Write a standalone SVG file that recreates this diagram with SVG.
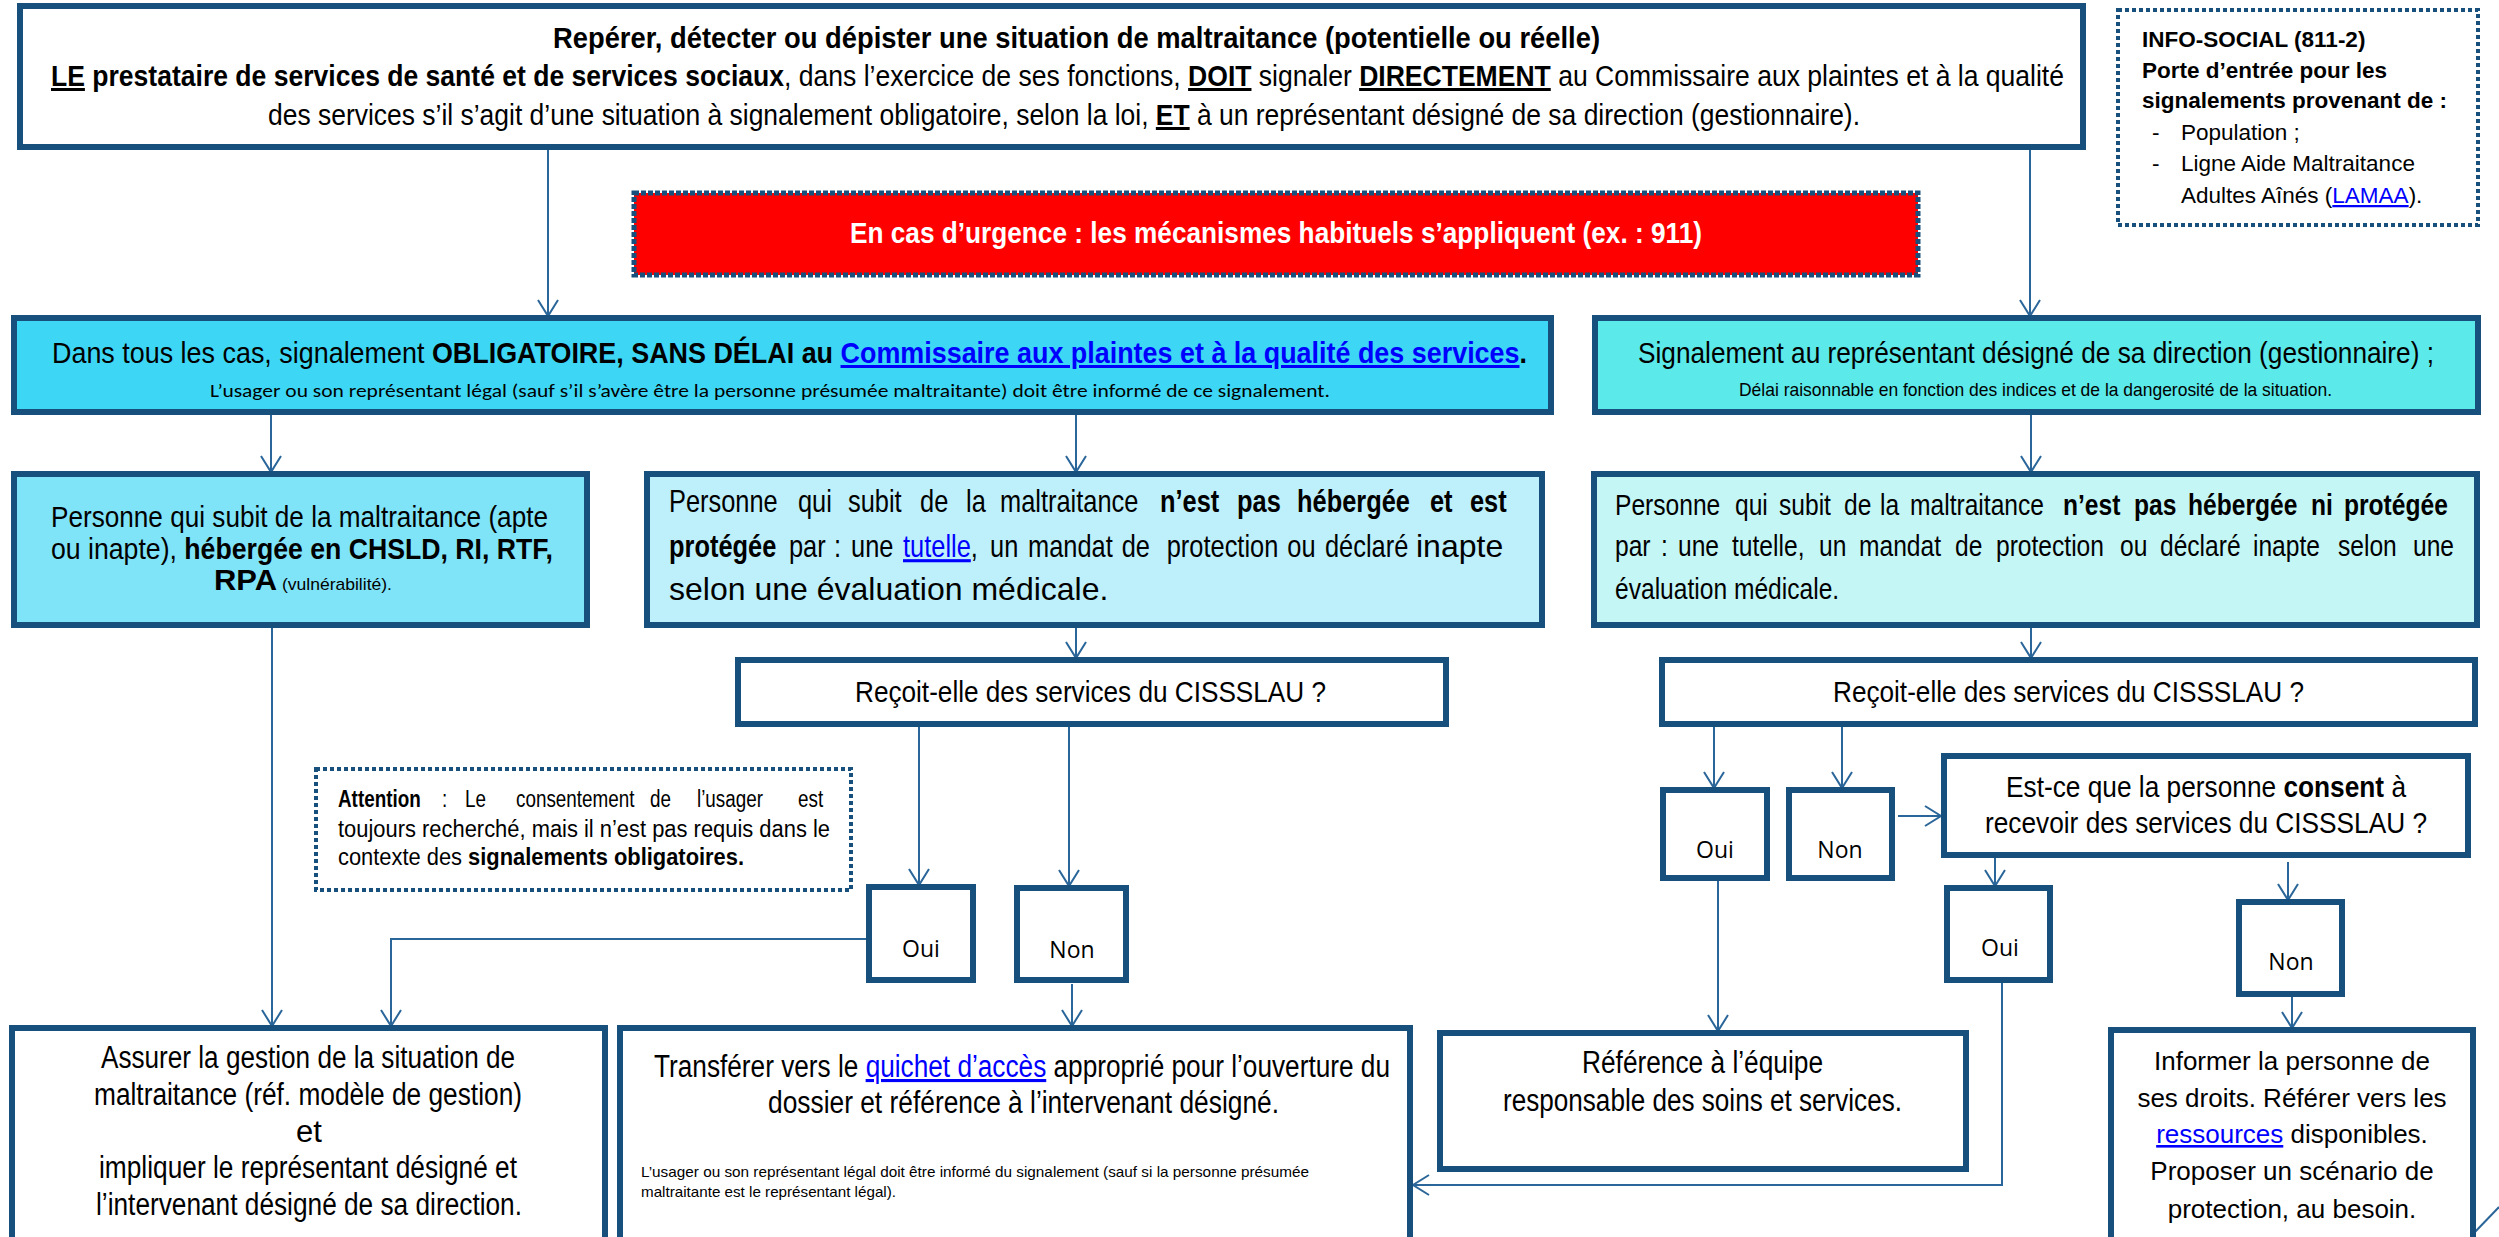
<svg xmlns="http://www.w3.org/2000/svg" width="2499" height="1237" viewBox="0 0 2499 1237">
<defs>
<style>
.box{stroke:#17507D;stroke-width:6}
.n{font-family:"Liberation Sans",Arial,sans-serif;fill:#000}
.a{font-family:"Liberation Sans",Arial,sans-serif;fill:#000}
.c{font-family:Carlito,Calibri,"Open Sans",sans-serif;fill:#000}
.b{font-weight:bold}
.u{text-decoration:underline}
.lk{fill:#0000FF;text-decoration:underline}
.con{fill:none;stroke:#2A6699;stroke-width:2}
.dot{fill:#fff;stroke:#17507D;stroke-width:4;stroke-dasharray:4 3}
.red{fill:#FF0000;stroke:#17507D;stroke-width:5;stroke-dasharray:5 2}
.on{font-family:"Open Sans",Calibri,sans-serif;font-size:23px;fill:#000;text-anchor:middle}
</style>
<marker id="ah" markerUnits="userSpaceOnUse" viewBox="-18 -12 20 24" markerWidth="20" markerHeight="24" refX="0" refY="0" orient="auto" overflow="visible">
<path d="M-16,-10 L0,0 L-16,10" fill="none" stroke="#2A6699" stroke-width="2"/>
</marker>
</defs>
<rect width="2499" height="1237" fill="#fff"/>

<g id="connectors">
<path class="con" d="M548,148 V316" marker-end="url(#ah)"/>
<path class="con" d="M2030,148 V316" marker-end="url(#ah)"/>
<path class="con" d="M271,413 V472" marker-end="url(#ah)"/>
<path class="con" d="M1076,413 V472" marker-end="url(#ah)"/>
<path class="con" d="M2031,413 V472" marker-end="url(#ah)"/>
<path class="con" d="M1076,626 V658" marker-end="url(#ah)"/>
<path class="con" d="M2031,626 V658" marker-end="url(#ah)"/>
<path class="con" d="M919,725 V885" marker-end="url(#ah)"/>
<path class="con" d="M1069,725 V886" marker-end="url(#ah)"/>
<path class="con" d="M1714,725 V788" marker-end="url(#ah)"/>
<path class="con" d="M1842,725 V788" marker-end="url(#ah)"/>
<path class="con" d="M1898,816 H1941" marker-end="url(#ah)"/>
<path class="con" d="M1995,858 V886" marker-end="url(#ah)"/>
<path class="con" d="M2288,862 V900" marker-end="url(#ah)"/>
<path class="con" d="M272,626 V1026" marker-end="url(#ah)"/>
<path class="con" d="M868,939 H391 V1026" marker-end="url(#ah)"/>
<path class="con" d="M1072,984 V1026" marker-end="url(#ah)"/>
<path class="con" d="M1718,879 V1031" marker-end="url(#ah)"/>
<path class="con" d="M2002,981 V1185 H1413" marker-end="url(#ah)"/>
<path class="con" d="M2292,997 V1028" marker-end="url(#ah)"/>
<path class="con" d="M2474,1233 L2499,1207"/>
</g>

<g id="top">
<rect class="box" x="20" y="6" width="2063" height="141" fill="#fff"/>
<text class="n b" x="553" y="48" font-size="30" textLength="1047" lengthAdjust="spacingAndGlyphs">Repérer, détecter ou dépister une situation de maltraitance (potentielle ou réelle)</text>
<text class="n" x="51" y="86" font-size="30" textLength="2013" lengthAdjust="spacingAndGlyphs"><tspan class="b u">LE</tspan><tspan class="b"> prestataire de services de santé et de services sociaux</tspan>, dans l’exercice de ses fonctions, <tspan class="b u">DOIT</tspan> signaler <tspan class="b u">DIRECTEMENT</tspan> au Commissaire aux plaintes et à la qualité</text>
<text class="n" x="268" y="125" font-size="30" textLength="1592" lengthAdjust="spacingAndGlyphs">des services s’il s’agit d’une situation à signalement obligatoire, selon la loi, <tspan class="b u">ET</tspan> à un représentant désigné de sa direction (gestionnaire).</text>
</g>

<g id="info-social">
<rect class="dot" x="2118" y="10" width="360" height="215"/>
<text class="a b" x="2142" y="47" font-size="22.5">INFO-SOCIAL (811-2)</text>
<text class="a b" x="2142" y="78" font-size="22.5">Porte d’entrée pour les</text>
<text class="a b" x="2142" y="108" font-size="22.5">signalements provenant de :</text>
<text class="a" x="2152" y="140" font-size="22.5">-</text>
<text class="a" x="2181" y="140" font-size="22.5">Population ;</text>
<text class="a" x="2152" y="171" font-size="22.5">-</text>
<text class="a" x="2181" y="171" font-size="22.5">Ligne Aide Maltraitance</text>
<text class="a" x="2181" y="203" font-size="22.5">Adultes Aînés (<tspan class="lk">LAMAA</tspan>).</text>
</g>

<g id="urgence">
<rect class="red" x="634" y="193" width="1284" height="82"/>
<text class="n b" x="850" y="243" font-size="30" style="fill:#fff" textLength="852" lengthAdjust="spacingAndGlyphs">En cas d’urgence : les mécanismes habituels s’appliquent (ex. : 911)</text>
</g>

<g id="signalement-commissaire">
<rect class="box" x="14" y="318" width="1537" height="94" fill="#3DD7F5"/>
<text class="n" x="52" y="363" font-size="30" textLength="1475" lengthAdjust="spacingAndGlyphs">Dans tous les cas, signalement <tspan class="b">OBLIGATOIRE, SANS DÉLAI au </tspan><tspan class="b lk">Commissaire aux plaintes et à la qualité des services</tspan><tspan class="b">.</tspan></text>
<text class="c" x="210" y="397" font-size="19" textLength="1120" lengthAdjust="spacingAndGlyphs">L’usager ou son représentant légal (sauf s’il s’avère être la personne présumée maltraitante) doit être informé de ce signalement.</text>
</g>

<g id="signalement-direction">
<rect class="box" x="1595" y="318" width="883" height="94" fill="#5BE9E9"/>
<text class="n" x="1638" y="363" font-size="30" textLength="796" lengthAdjust="spacingAndGlyphs">Signalement au représentant désigné de sa direction (gestionnaire) ;</text>
<text class="n" x="1739" y="396" font-size="19" textLength="593" lengthAdjust="spacingAndGlyphs">Délai raisonnable en fonction des indices et de la dangerosité de la situation.</text>
</g>

<g id="heberge">
<rect class="box" x="14" y="474" width="573" height="151" fill="#80E4F8"/>
<text class="n" x="51" y="527" font-size="30" textLength="497" lengthAdjust="spacingAndGlyphs">Personne qui subit de la maltraitance (apte</text>
<text class="n" x="51" y="559" font-size="30" textLength="502" lengthAdjust="spacingAndGlyphs">ou inapte), <tspan class="b">hébergée en CHSLD, RI, RTF,</tspan></text>
<text class="n" x="214" y="590" textLength="178" lengthAdjust="spacingAndGlyphs"><tspan class="b" font-size="30">RPA</tspan><tspan font-size="17"> (vulnérabilité).</tspan></text>
</g>

<g id="protegee">
<rect class="box" x="647" y="474" width="895" height="151" fill="#BEF0FB"/>
<text class="n" y="512" font-size="31" transform="translate(669,0) scale(0.82,1)"><tspan x="0">Personne</tspan><tspan x="157.3">qui</tspan><tspan x="218.3">subit</tspan><tspan x="306.1">de</tspan><tspan x="362.2">la</tspan><tspan x="403.7">maltraitance</tspan><tspan class="b" x="598.8">n’est</tspan><tspan class="b" x="692.7">pas</tspan><tspan class="b" x="765.9">hébergée</tspan><tspan class="b" x="928">et</tspan><tspan class="b" x="976.8">est</tspan></text>
<text class="n" y="557" font-size="31" transform="translate(669,0) scale(0.82,1)"><tspan class="b" x="0">protégée</tspan><tspan x="146.3">par</tspan><tspan x="201.2">:</tspan><tspan x="222">une</tspan><tspan class="lk" x="285.4">tutelle</tspan><tspan>,</tspan><tspan x="391.5">un</tspan><tspan x="437.8">mandat</tspan><tspan x="552">de</tspan><tspan x="607">protection</tspan><tspan x="754">ou</tspan><tspan x="800">déclaré</tspan></text>
<text class="a" x="1416" y="557" font-size="32">inapte</text>
<text class="a" x="669" y="600" font-size="32">selon une évaluation médicale.</text>
</g>

<g id="non-protegee">
<rect class="box" x="1594" y="474" width="883" height="151" fill="#C5F6F6"/>
<text class="n" y="515" font-size="30" transform="translate(1615,0) scale(0.82,1)"><tspan x="0">Personne</tspan><tspan x="146.3">qui</tspan><tspan x="200">subit</tspan><tspan x="279.3">de</tspan><tspan x="323.2">la</tspan><tspan x="359.8">maltraitance</tspan><tspan class="b" x="546.3">n’est</tspan><tspan class="b" x="632.9">pas</tspan><tspan class="b" x="698.8">hébergée</tspan><tspan class="b" x="848.8">ni</tspan><tspan class="b" x="889">protégée</tspan></text>
<text class="n" y="556" font-size="30" transform="translate(1615,0) scale(0.82,1)"><tspan x="0">par</tspan><tspan x="56.1">:</tspan><tspan x="76.8">une</tspan><tspan x="142.7">tutelle,</tspan><tspan x="248.8">un</tspan><tspan x="297.6">mandat</tspan><tspan x="414.6">de</tspan><tspan x="464.6">protection</tspan><tspan x="615.9">ou</tspan><tspan x="664.6">déclaré</tspan><tspan x="778">inapte</tspan><tspan x="881.7">selon</tspan><tspan x="973.2">une</tspan></text>
<text class="n" x="0" y="599" font-size="30" transform="translate(1615,0) scale(0.82,1)">évaluation médicale.</text>
</g>

<g id="recoit-1">
<rect class="box" x="738" y="660" width="708" height="64" fill="#fff"/>
<text class="n" x="855" y="702" font-size="29" textLength="471" lengthAdjust="spacingAndGlyphs">Reçoit-elle des services du CISSSLAU ?</text>
</g>

<g id="recoit-2">
<rect class="box" x="1662" y="660" width="813" height="64" fill="#fff"/>
<text class="n" x="1833" y="702" font-size="29" textLength="471" lengthAdjust="spacingAndGlyphs">Reçoit-elle des services du CISSSLAU ?</text>
</g>

<g id="attention">
<rect class="dot" x="316" y="769" width="535" height="121"/>
<text class="n" y="807" font-size="23" transform="translate(338,0) scale(0.82,1)"><tspan class="b" x="0">Attention</tspan><tspan x="126.8">:</tspan><tspan x="154.9">Le</tspan><tspan x="217.1">consentement</tspan><tspan x="380.5">de</tspan><tspan x="437.8">l’usager</tspan><tspan x="561">est</tspan></text>
<text class="n" x="338" y="837" font-size="23" textLength="492" lengthAdjust="spacingAndGlyphs">toujours recherché, mais il n’est pas requis dans le</text>
<text class="n" x="338" y="865" font-size="23" textLength="406" lengthAdjust="spacingAndGlyphs">contexte des <tspan class="b">signalements obligatoires.</tspan></text>
</g>

<g id="oui-1">
<rect class="box" x="869" y="887" width="104" height="93" fill="#fff"/>
<text class="on" x="921" y="957">Oui</text>
</g>
<g id="non-1">
<rect class="box" x="1017" y="888" width="109" height="92" fill="#fff"/>
<text class="on" x="1072" y="958">Non</text>
</g>
<g id="oui-2">
<rect class="box" x="1663" y="790" width="104" height="88" fill="#fff"/>
<text class="on" x="1715" y="858">Oui</text>
</g>
<g id="non-2">
<rect class="box" x="1789" y="790" width="103" height="88" fill="#fff"/>
<text class="on" x="1840" y="858">Non</text>
</g>

<g id="consent">
<rect class="box" x="1944" y="756" width="524" height="99" fill="#fff"/>
<text class="n" x="2006" y="797" font-size="29" textLength="400" lengthAdjust="spacingAndGlyphs">Est-ce que la personne <tspan class="b">consent</tspan> à</text>
<text class="n" x="1985" y="833" font-size="29" textLength="442" lengthAdjust="spacingAndGlyphs">recevoir des services du CISSSLAU ?</text>
</g>

<g id="oui-3">
<rect class="box" x="1947" y="888" width="103" height="92" fill="#fff"/>
<text class="on" x="2000" y="956">Oui</text>
</g>
<g id="non-3">
<rect class="box" x="2239" y="902" width="103" height="92" fill="#fff"/>
<text class="on" x="2291" y="970">Non</text>
</g>

<g id="assurer">
<rect class="box" x="12" y="1028" width="593" height="240" fill="#fff"/>
<text class="n" x="101" y="1068" font-size="31" textLength="414" lengthAdjust="spacingAndGlyphs">Assurer la gestion de la situation de</text>
<text class="n" x="94" y="1105" font-size="31" textLength="428" lengthAdjust="spacingAndGlyphs">maltraitance (réf. modèle de gestion)</text>
<text class="n" x="309" y="1142" font-size="31" text-anchor="middle">et</text>
<text class="n" x="99" y="1178" font-size="31" textLength="418" lengthAdjust="spacingAndGlyphs">impliquer le représentant désigné et</text>
<text class="n" x="96" y="1215" font-size="31" textLength="426" lengthAdjust="spacingAndGlyphs">l’intervenant désigné de sa direction.</text>
</g>

<g id="transferer">
<rect class="box" x="620" y="1028" width="790" height="240" fill="#fff"/>
<text class="n" x="654" y="1077" font-size="31" textLength="736" lengthAdjust="spacingAndGlyphs">Transférer vers le <tspan class="lk">quichet d’accès</tspan> approprié pour l’ouverture du</text>
<text class="n" x="768" y="1113" font-size="31" textLength="511" lengthAdjust="spacingAndGlyphs">dossier et référence à l’intervenant désigné.</text>
<text class="n" x="641" y="1177" font-size="15" textLength="668" lengthAdjust="spacingAndGlyphs">L’usager ou son représentant légal doit être informé du signalement (sauf si la personne présumée</text>
<text class="n" x="641" y="1197" font-size="15" textLength="255" lengthAdjust="spacingAndGlyphs">maltraitante est le représentant légal).</text>
</g>

<g id="reference">
<rect class="box" x="1440" y="1033" width="526" height="136" fill="#fff"/>
<text class="n" x="1582" y="1073" font-size="31" textLength="241" lengthAdjust="spacingAndGlyphs">Référence à l’équipe</text>
<text class="n" x="1503" y="1111" font-size="31" textLength="399" lengthAdjust="spacingAndGlyphs">responsable des soins et services.</text>
</g>

<g id="informer">
<rect class="box" x="2111" y="1030" width="362" height="240" fill="#fff"/>
<text class="a" x="2292" y="1070" font-size="26" text-anchor="middle">Informer la personne de</text>
<text class="a" x="2292" y="1107" font-size="26" text-anchor="middle">ses droits. Référer vers les</text>
<text class="a" x="2292" y="1143" font-size="26" text-anchor="middle"><tspan class="lk">ressources</tspan> disponibles.</text>
<text class="a" x="2292" y="1180" font-size="26" text-anchor="middle">Proposer un scénario de</text>
<text class="a" x="2292" y="1218" font-size="26" text-anchor="middle">protection, au besoin.</text>
</g>
</svg>
